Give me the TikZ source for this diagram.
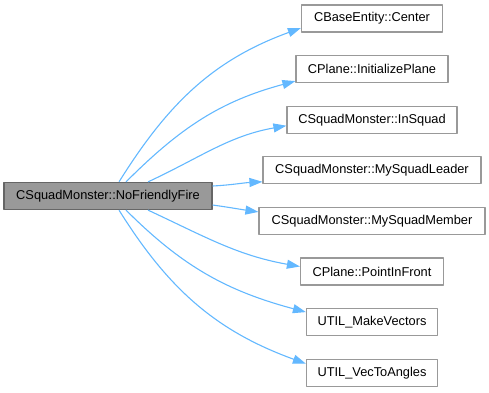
\documentclass[tikz,border=0pt]{standalone}
\usepackage{fontspec}
\setmainfont{Liberation Sans}
\usetikzlibrary{arrows.meta}
\definecolor{xanh}{HTML}{63B8FF}
\definecolor{vien}{HTML}{999999}
\definecolor{nen}{HTML}{999999}
\definecolor{vienchinh}{HTML}{666666}
\begin{document}
\begin{tikzpicture}[x=1pt, y=1pt, font=\fontsize{12.8}{15}\selectfont, line join=round, >={Triangle[length=13pt,width=9pt]},
	ham/.style={draw=vien, line width=1.2pt, fill=white, minimum height=27pt, inner sep=0pt},
	goi/.style={->, draw=xanh, line width=1.1pt}]
	\useasboundingbox (0,0) rectangle (489,392);
	% Định nghĩa tham số
	\def\xh{372}
	% Hàm chính
	\node[ham, fill=nen, draw=vienchinh, minimum width=208pt] (main) at (108,196) {CSquadMonster::NoFriendlyFire};
	% Các hàm được gọi
	\foreach \ten/\y/\w/\nhan in {cen/373.5/141/CBaseEntity::Center,
		ini/322.9/152/CPlane::InitializePlane,
		ins/272.3/170/CSquadMonster::InSquad,
		lea/221.7/218/CSquadMonster::MySquadLeader,
		mem/171.1/226/CSquadMonster::MySquadMember,
		pif/120.5/143/CPlane::PointInFront,
		mkv/69.9/131/UTIL\_MakeVectors,
		vta/19.3/131/UTIL\_VecToAngles}
	\node[ham, minimum width=\w pt] (\ten) at (\xh,\y) {\nhan};
	% Các cung gọi hàm
	\foreach \ten/\a/\dx/\dy/\o/\i/\dz in {cen/north/11/0/58/200/-9.5,
		ini/north/18/0/45/195/-12,
		ins/north/40/0/25/190/-6,
		lea/east/0/10/3/183/-11.5,
		mem/east/0/-9/-8/172/9,
		pif/south/40/0/-25/170/5,
		mkv/south/18/0/-45/165/10,
		vta/south/11/0/-58/160/9}
	\draw[goi] ([shift={(\dx,\dy)}]main.\a) to[out=\o, in=\i] ([yshift=\dz]\ten.west);
\end{tikzpicture}
\end{document}
